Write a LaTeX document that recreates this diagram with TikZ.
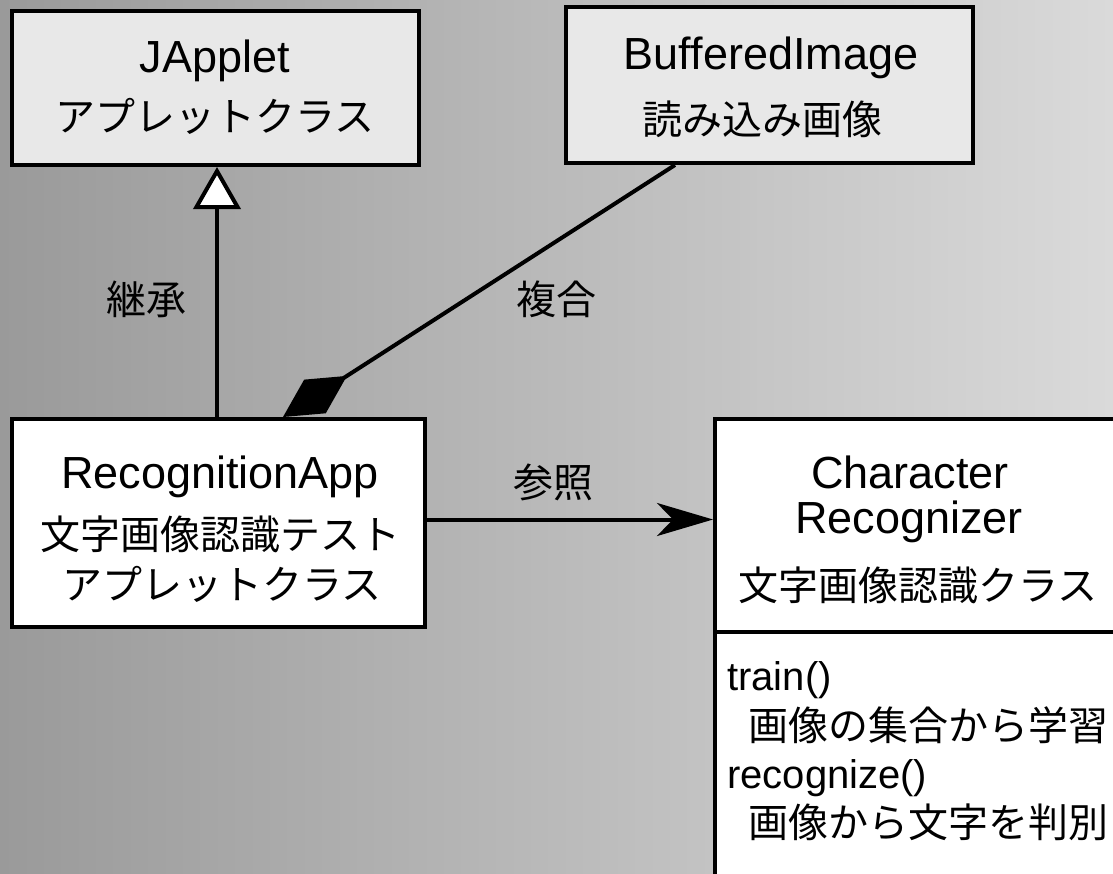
\documentclass[tikz,border=0pt]{standalone}
\usepackage{fontspec}
\setmainfont{Liberation Sans}
\newfontfamily\jp{Noto Sans CJK JP}
\usetikzlibrary{arrows.meta}

\definecolor{bgleft}{RGB}{154,154,154}
\definecolor{bgright}{RGB}{218,218,218}
\definecolor{libfill}{RGB}{232,232,232}

\begin{document}
\begin{tikzpicture}[x=1pt,y=-1pt,
  box/.style={draw=black, line width=4pt, rectangle, inner sep=0pt, line join=miter},
  libbox/.style={box, fill=libfill},
  appbox/.style={box, fill=white},
  latin/.style={font=\fontsize{45}{54}\selectfont, inner sep=0pt, anchor=base},
  kanji/.style={font=\jp\fontsize{40}{48}\selectfont, inner sep=0pt, anchor=base},
  method/.style={font=\fontsize{40}{48}\selectfont, inner sep=0pt, anchor=base west},
  methodjp/.style={kanji, anchor=base west},
  link/.style={draw=black, line width=4pt},
]
\useasboundingbox (0,0) rectangle (1113,873);
\clip (0,0) rectangle (1113,873);

% backdrop
\shade[left color=bgleft, right color=bgright] (0,0) rectangle (1113,873);

% class boxes
\node[libbox, minimum width=407pt, minimum height=154pt] (ja) at (215.5,88) {};
\node[libbox, minimum width=407pt, minimum height=156pt] (bi) at (769.5,85) {};
\node[appbox, minimum width=413pt, minimum height=208pt] (ra) at (218.5,523) {};
\node[appbox, minimum width=406pt, minimum height=490pt] (cr) at (918,663.5) {};
\coordinate (div) at (0,632);
\draw[line width=4pt] (cr.west |- div) -- (cr.east |- div);

% class names
\node[latin] (jaA) at (215,72) {JApplet};
\node[kanji] (jaB) at (215,131) {アプレットクラス};
\node[latin] (biA) at (771,69) {BufferedImage};
\node[kanji] (biB) at (762,134) {読み込み画像};
\node[latin] (raA) at (220,488) {RecognitionApp};
\node[kanji] (raB) at (220,549) {文字画像認識テスト};
\node[kanji] (raC) at (222,599) {アプレットクラス};
\node[latin] (crA) at (910,488) {Character};
\node[latin] (crB) at (909,533) {Recognizer};
\node[kanji] (crC) at (918,600) {文字画像認識クラス};

% operations
\node[method] (opA) at (727,690) {train()};
\node[methodjp] (opB) at (748,740) {画像の集合から学習};
\node[method] (opC) at (727,788) {recognize()};
\node[methodjp] (opD) at (748,837) {画像から文字を判別};

% relations
\draw[link, -{Triangle[length=42pt, width=47pt, fill=white]}]
  ([xshift=-1.5pt]ra.north) -- ([xshift=-1.5pt]ra.north |- ja.south);
\draw[link, {Diamond[length=76pt, width=40pt]}-]
  ([xshift=64.5pt]ra.north) -- ([xshift=-94.5pt]bi.south);
\draw[link, -{Stealth[length=56pt, width=33pt, inset=16pt]}]
  ([yshift=3.5pt]ra.east) -- ([yshift=3.5pt]ra.east -| cr.west);

% relation labels
\node[kanji] (lbInh) at (146,314) {継承};
\node[kanji] (lbComp) at (556,314) {複合};
\node[kanji] (lbRef) at (553,497) {参照};
\end{tikzpicture}
\end{document}
